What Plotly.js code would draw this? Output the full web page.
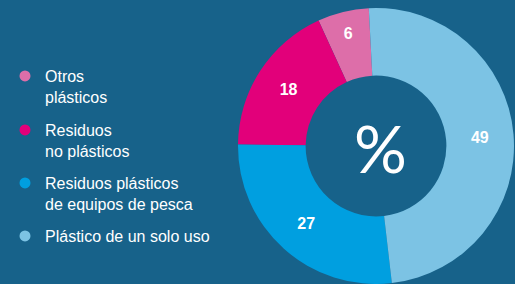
<!DOCTYPE html>
<html><head><meta charset="utf-8">
<script src="https://cdn.plot.ly/plotly-3.0.1.min.js"></script>
<style>html,body{margin:0;padding:0;background:#17628a;overflow:hidden}#c{width:515px;height:284px;}</style>
</head><body><div id="c"></div>
<script>
// Data
const labels = ["Otros<br>plásticos", "Residuos<br>no plásticos", "Residuos plásticos<br>de equipos de pesca", "Plástico de un solo uso"];
const values = [6, 18, 27, 49];
const colors = ["#dd6ea9", "#e2007a", "#009fe0", "#7cc3e4"];
const centerText = "%";

const W = 515, H = 284;
const pie = {
  type: 'pie', labels: labels, values: values, sort: false,
  direction: 'counterclockwise', rotation: -24.6, hole: 0.51,
  marker: {colors: colors, line: {width: 0}},
  textinfo: 'value', textposition: 'inside', insidetextorientation: 'horizontal',
  textfont: {family: 'Liberation Sans, Arial, sans-serif', size: 16, color: '#ffffff', weight: 'bold'},
  showlegend: false, hoverinfo: 'skip',
  domain: {x: [238 / W, 514 / W], y: [0, 276 / H]}
};

const legendIds = ['legend', 'legend2', 'legend3', 'legend4'];
const legendTops = [59, 113, 166, 219];
const traces = [pie];
labels.forEach((l, i) => {
  traces.push({type: 'scatter', mode: 'markers', x: [null], y: [null], name: l,
    marker: {color: colors[i], size: 11, symbol: 'circle'}, legend: legendIds[i], hoverinfo: 'skip'});
});

const layout = {
  width: W, height: H, margin: {l: 0, r: 0, t: 0, b: 0},
  paper_bgcolor: '#17628a', plot_bgcolor: 'rgba(0,0,0,0)',
  xaxis: {visible: false}, yaxis: {visible: false},
  annotations: [{text: centerText, x: 380 / W, y: 1 - 147 / H, xref: 'paper', yref: 'paper',
    xanchor: 'center', yanchor: 'middle',
    showarrow: false, font: {family: 'Lato, sans-serif', size: 66, color: '#ffffff'}}]
};
legendIds.forEach((id, i) => {
  layout[id] = {x: 5 / W, y: 1 - legendTops[i] / H, xanchor: 'left', yanchor: 'top',
    bgcolor: 'rgba(0,0,0,0)', borderwidth: 0, valign: 'top', itemclick: false, itemdoubleclick: false,
    font: {family: 'Liberation Sans, Arial, sans-serif', size: 16, color: '#ffffff'}};
});

Plotly.newPlot('c', traces, layout, {staticPlot: true, displayModeBar: false});
</script></body></html>
